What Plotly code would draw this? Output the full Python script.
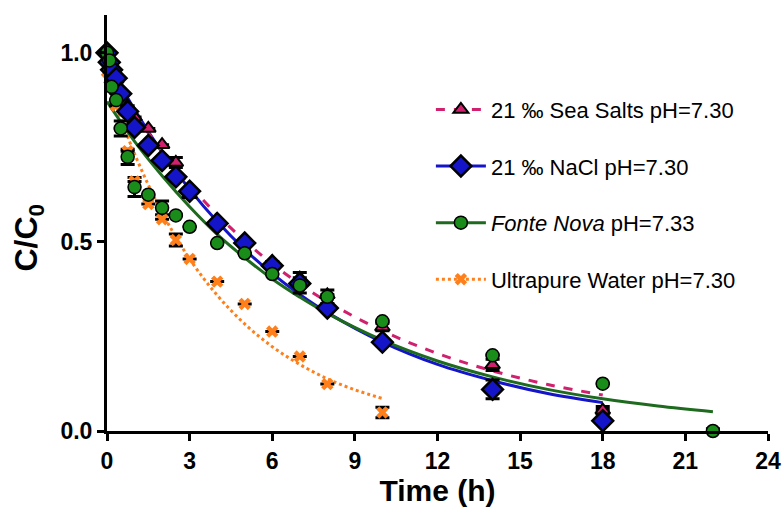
import plotly.graph_objects as go

# ---------------- data ----------------
t_sea = [0, 0.083, 0.167, 0.333, 0.5, 0.75, 1, 1.5, 2, 2.5, 3, 4, 5, 6, 7, 8, 10, 14, 18]
c_sea = [1.0, 0.98, 0.96, 0.93, 0.90, 0.86, 0.83, 0.80, 0.757, 0.71, 0.625, 0.55, 0.50, 0.448, 0.404, 0.36, 0.275, 0.175, 0.055]
e_sea = [0, 0, 0, 0, 0, 0, 0, 0, 0, 0.013, 0, 0, 0, 0, 0.015, 0, 0.01, 0.015, 0.01]

t_nacl = [0, 0.083, 0.167, 0.333, 0.5, 0.75, 1, 1.5, 2, 2.5, 3, 4, 5, 6, 7, 8, 10, 14, 18]
c_nacl = [1.0, 0.975, 0.955, 0.933, 0.892, 0.845, 0.803, 0.755, 0.715, 0.672, 0.634, 0.549, 0.497, 0.437, 0.39, 0.325, 0.235, 0.11, 0.027]
e_nacl = [0, 0, 0, 0, 0, 0, 0, 0, 0, 0, 0, 0, 0, 0, 0, 0, 0, 0.025, 0.03]
em_nacl = [0, 0, 0, 0, 0, 0, 0, 0, 0, 0, 0, 0, 0, 0, 0, 0, 0, 0.025, 0.0]

t_fn = [0, 0.083, 0.167, 0.333, 0.5, 0.75, 1, 1.5, 2, 2.5, 3, 4, 5, 6, 7, 8, 10, 14, 18, 22]
c_fn = [1.0, 0.98, 0.91, 0.875, 0.80, 0.725, 0.645, 0.625, 0.59, 0.57, 0.54, 0.497, 0.47, 0.415, 0.385, 0.355, 0.29, 0.20, 0.125, 0.0]
e_fn = [0, 0, 0, 0, 0.02, 0.02, 0.025, 0, 0.018, 0, 0, 0, 0, 0, 0.02, 0.018, 0, 0, 0, 0.006]

t_uw = [0, 0.083, 0.333, 0.5, 0.75, 1, 1.5, 2, 2.5, 3, 4, 5, 6, 7, 8, 10]
c_uw = [0.95, 0.93, 0.86, 0.80, 0.74, 0.66, 0.60, 0.56, 0.505, 0.455, 0.395, 0.336, 0.263, 0.197, 0.124, 0.049]
e_uw = [0, 0, 0, 0, 0, 0, 0, 0, 0.016, 0, 0, 0, 0, 0, 0, 0.014]

# fitted curves, values
fit_t_sea = [0, 1, 2, 3, 4, 5, 6, 7, 8, 10, 12, 14, 16, 18]
fit_c_sea = [0.955, 0.840, 0.739, 0.650, 0.572, 0.503, 0.442, 0.389, 0.342, 0.265, 0.205, 0.159, 0.123, 0.095]
fit_t_nacl = [0, 1, 2, 3, 4, 5, 6, 7, 8, 10, 12, 14, 16, 18]
fit_c_nacl = [0.98, 0.85, 0.737, 0.639, 0.554, 0.480, 0.416, 0.361, 0.313, 0.235, 0.176, 0.133, 0.099, 0.075]
fit_t_fn = [0, 1, 2, 3, 4, 5, 6, 7, 8, 10, 12, 14, 16, 18, 20, 22]
fit_c_fn = [0.871, 0.766, 0.675, 0.593, 0.520, 0.458, 0.402, 0.354, 0.311, 0.240, 0.185, 0.143, 0.110, 0.085, 0.066, 0.051]
fit_t_uw = [0, 1, 2, 3, 4, 5, 6, 7, 8, 9, 10]
fit_c_uw = [0.93, 0.733, 0.578, 0.455, 0.359, 0.283, 0.223, 0.176, 0.138, 0.109, 0.086]

names = ["21 \u2030 Sea Salts pH=7.30", "21 \u2030 NaCl pH=7.30",
         "<i>Fonte Nova</i> pH=7.33", "Ultrapure Water pH=7.30"]

x_ticks = [0, 3, 6, 9, 12, 15, 18, 21, 24]
y_ticks = [0.0, 0.5, 1.0]
y_tick_labels = ["0.0", "0.5", "1.0"]

# ---------------- styles ----------------
PINK = "#D0206E"
BLUE = "#1414C8"
GREEN_M = "#1A8C1A"
GREEN_L = "#1E6A1E"
ORANGE = "#FF7F1A"
LW = 3

fig = go.Figure()

# fit lines
fig.add_trace(go.Scatter(x=fit_t_uw, y=fit_c_uw, mode="lines", line=dict(color=ORANGE, width=LW, dash="dot", shape="spline"), showlegend=False))
fig.add_trace(go.Scatter(x=fit_t_nacl, y=fit_c_nacl, mode="lines", line=dict(color=BLUE, width=LW, shape="spline"), showlegend=False))
fig.add_trace(go.Scatter(x=fit_t_sea, y=fit_c_sea, mode="lines", line=dict(color=PINK, width=LW, dash="dash", shape="spline"), showlegend=False))
fig.add_trace(go.Scatter(x=fit_t_fn, y=fit_c_fn, mode="lines", line=dict(color=GREEN_L, width=LW, shape="spline"), showlegend=False))

# error bars (black, below markers)
def err_trace(t, c, e, em=None):
    ey = dict(type="data", array=e, color="black", thickness=3, width=7, visible=True)
    if em is not None:
        ey["symmetric"] = False
        ey["arrayminus"] = em
    return go.Scatter(x=t, y=c, mode="markers", marker=dict(size=1, color="rgba(0,0,0,0)"),
                      error_y=ey, showlegend=False, cliponaxis=False, hoverinfo="skip")

fig.add_trace(err_trace(t_uw, c_uw, e_uw))
fig.add_trace(err_trace(t_sea, c_sea, e_sea))
fig.add_trace(err_trace(t_nacl, c_nacl, e_nacl, em_nacl))
fig.add_trace(err_trace(t_fn, c_fn, e_fn))

# markers
m_uw = dict(symbol="x", size=11, color=ORANGE, line=dict(width=0))
m_sea = dict(symbol="triangle-up", size=13, color=PINK, line=dict(color="black", width=2))
m_nacl = dict(symbol="diamond", size=16, color=BLUE, line=dict(color="black", width=2.5))
m_fn = dict(symbol="circle", size=13, color=GREEN_M, line=dict(color="black", width=1.5))

fig.add_trace(go.Scatter(x=t_uw, y=c_uw, mode="markers", marker=m_uw, showlegend=False, cliponaxis=False))
fig.add_trace(go.Scatter(x=t_sea, y=c_sea, mode="markers", marker=m_sea, showlegend=False, cliponaxis=False))
fig.add_trace(go.Scatter(x=t_nacl, y=c_nacl, mode="markers", marker=m_nacl, showlegend=False, cliponaxis=False))
fig.add_trace(go.Scatter(x=t_fn, y=c_fn, mode="markers", marker=m_fn, showlegend=False, cliponaxis=False))

# legend-only entries
leg = [
    (names[0], PINK, "dash", m_sea),
    (names[1], BLUE, "solid", m_nacl),
    (names[2], GREEN_L, "solid", m_fn),
    (names[3], ORANGE, "dot", m_uw),
]
for i, (nm, col, dash, mk) in enumerate(leg):
    fig.add_trace(go.Scatter(x=[None], y=[None], mode="lines+markers", name=nm,
                             line=dict(color=col, width=LW, dash=dash), marker=mk,
                             legendgroup=f"g{i}", showlegend=True))

fig.update_layout(
    width=783, height=513,
    margin=dict(l=107, r=15, t=15, b=82),
    paper_bgcolor="white", plot_bgcolor="white",
    font=dict(family="Liberation Sans, Arial, sans-serif", color="black"),
    legend=dict(x=0.49, y=0.823, xanchor="left", yanchor="top",
                font=dict(size=22, color="black"), tracegroupgap=25,
                bgcolor="rgba(0,0,0,0)", itemwidth=50),
    annotations=[dict(text="<b>C/C<sub>0</sub></b>", textangle=-90, xref="paper", yref="paper",
                      x=-0.118, y=0.465, xanchor="center", yanchor="middle", showarrow=False,
                      font=dict(size=32, color="black"))],
)
fig.update_xaxes(range=[0, 24], tickvals=x_ticks, showgrid=False, zeroline=False,
                 showline=True, linecolor="black", linewidth=3, automargin=False,
                 ticks="outside", ticklen=7, tickwidth=3, tickcolor="black",
                 tickfont=dict(size=23, family="Liberation Sans, Arial", color="black", weight="bold"),
                 title=dict(text="<b>Time (h)</b>", font=dict(size=30), standoff=6))
fig.update_yaxes(range=[0, 1.1], tickvals=y_ticks, ticktext=y_tick_labels, showgrid=False, zeroline=False,
                 showline=True, linecolor="black", linewidth=3, automargin=False,
                 ticks="outside", ticklen=7, tickwidth=3, tickcolor="black",
                 tickfont=dict(size=23, family="Liberation Sans, Arial", color="black", weight="bold"))

fig.write_html("out.html")
